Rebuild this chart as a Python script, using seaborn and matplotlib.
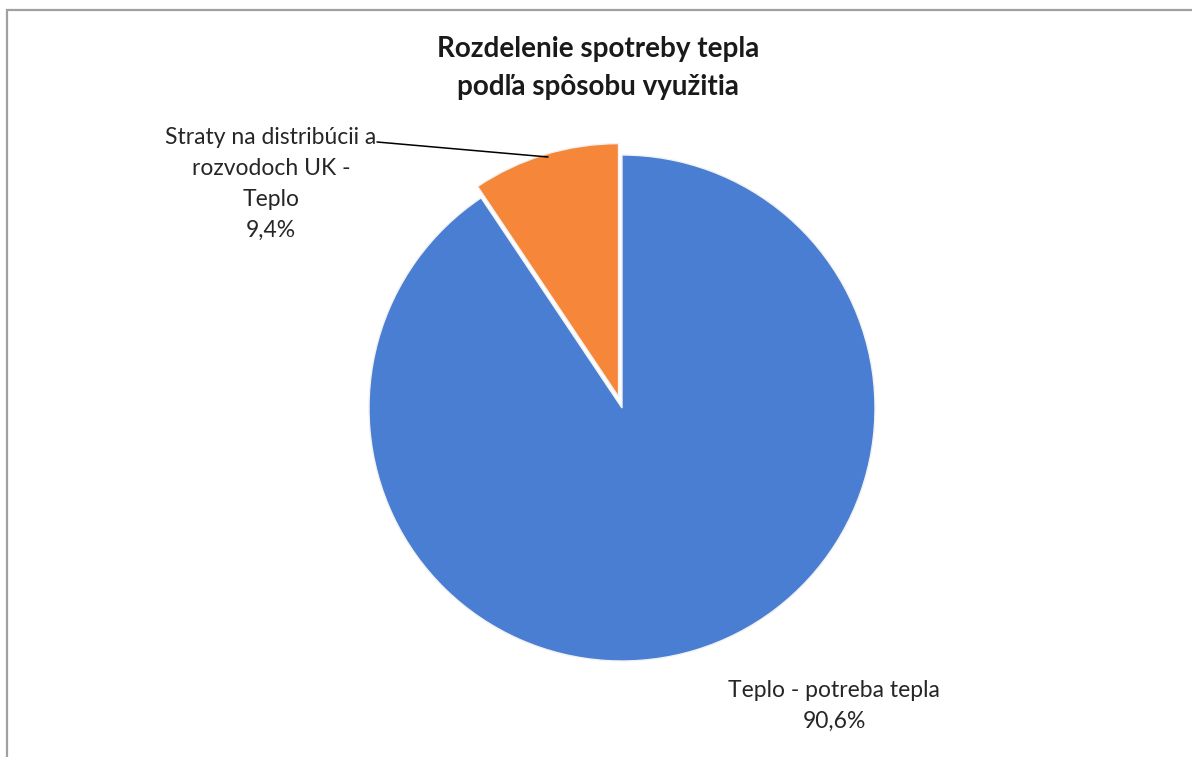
import matplotlib
matplotlib.use("Agg")
import matplotlib.pyplot as plt
import seaborn as sns
from matplotlib.patches import Rectangle

# Heat consumption split by use
categories = ["Straty na distribúcii a\nrozvodoch UK -\nTeplo", "Teplo - potreba tepla"]
shares = [9.4, 90.6]
colors = ["#F6873A", "#4A7ED2"]
title = "Rozdelenie spotreby tepla\npodľa spôsobu využitia"

sns.set_theme(style="white")
plt.rcParams["font.family"] = ["Lato", "DejaVu Sans"]

W, H = 1192, 757
fig = plt.figure(figsize=(W / 100, H / 100), dpi=100)
ax = fig.add_axes([0, 0, 1, 1])

# pixel geometry of the pie
cx, cy, R = 622, 408, 253

def to_data(px, py):
    return (px - cx) / R, (cy - py) / R

wedges, _ = ax.pie(
    shares,
    colors=colors,
    startangle=90,
    counterclock=True,
    explode=[0.047, 0.0],
    wedgeprops=dict(edgecolor="#F2F2F2", linewidth=1.0),
)

ax.set_xlim(-cx / R, (W - cx) / R)
ax.set_ylim(-(H - cy) / R, cy / R)
ax.set_aspect("auto")
ax.axis("off")

# data labels
lab_small = f"{categories[0]}\n{shares[0]:.1f}%".replace(".", ",")
lab_big = f"{categories[1]}\n{shares[1]:.1f}%".replace(".", ",")

x1, y1 = to_data(271, 184)
ax.text(x1, y1, lab_small, ha="center", va="center", fontsize=16.5,
        color="#262626", linespacing=1.6)
x2, y2 = to_data(834, 706)
ax.text(x2, y2, lab_big, ha="center", va="center", fontsize=16.5,
        color="#262626", linespacing=1.6)

# leader line to the small slice
lx0, ly0 = to_data(377, 142)
lx1, ly1 = to_data(548, 157)
ax.plot([lx0, lx1], [ly0, ly1], color="black", linewidth=1.1)

# title
fig.text(598 / W, 1 - 68 / H, title, ha="center", va="center", fontsize=20,
         fontweight="bold", color="#1a1a1a", linespacing=1.6)

# chart frame
fig.patches.append(Rectangle((7 / W, -0.1), 1.2, 1.1 - 10 / H,
                             transform=fig.transFigure, fill=False,
                             edgecolor="#A0A0A0", linewidth=1.6))

fig.savefig("out.png", dpi=100, facecolor="white")
